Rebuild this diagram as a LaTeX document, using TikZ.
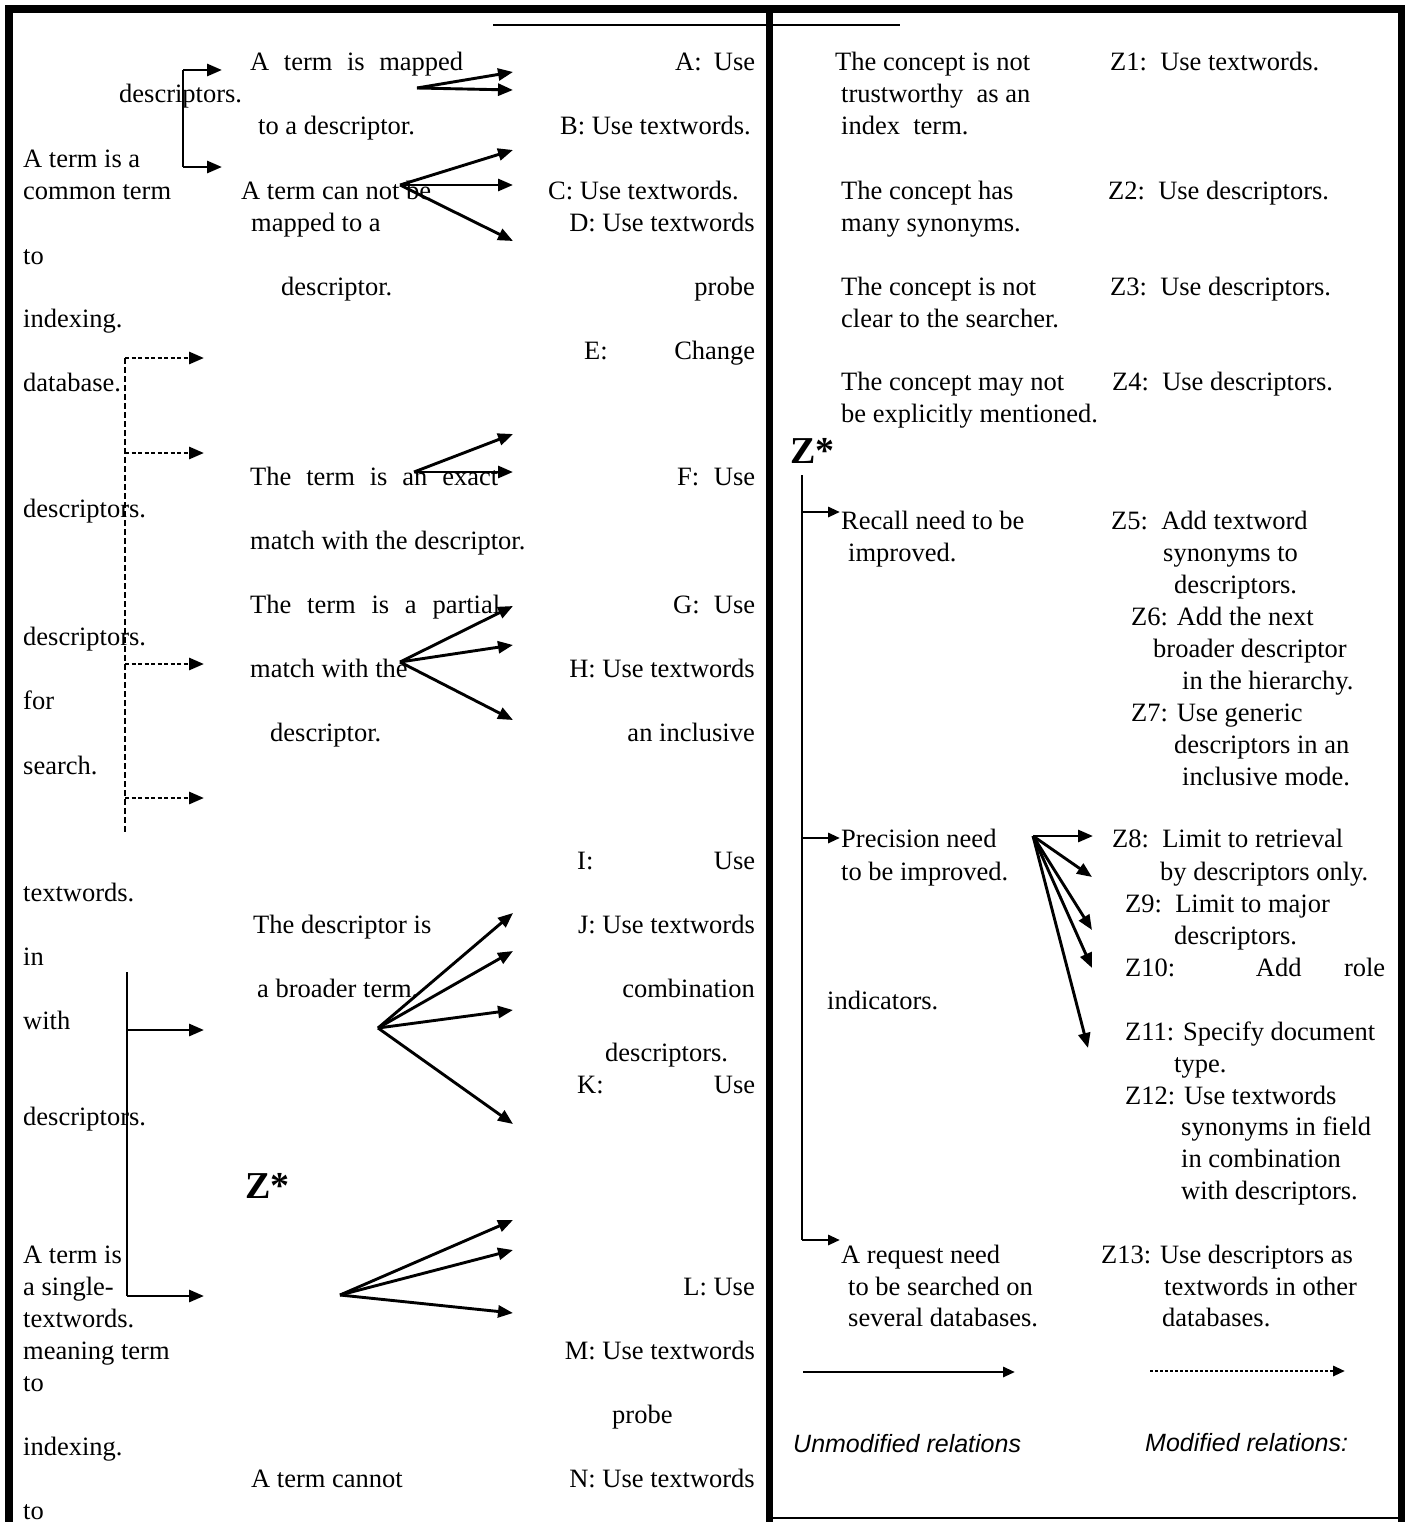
\documentclass[tikz,border=0pt]{standalone}
\usepackage{fontspec}
\setmainfont{Liberation Serif}
\newfontfamily\legendfont{Liberation Sans}
\usetikzlibrary{arrows.meta}
\tikzset{
    Lbl/.style={anchor=base west,inner sep=0pt,font=\fontsize{26.5bp}{32bp}\selectfont},
    Rbl/.style={anchor=base east,inner sep=0pt,font=\fontsize{26.5bp}{32bp}\selectfont},
    Star/.style={anchor=base west,inner sep=0pt,font=\fontsize{38bp}{40bp}\selectfont\bfseries},
    Leg/.style={anchor=base west,inner sep=0pt,font=\fontsize{25bp}{30bp}\selectfont\legendfont\itshape},
    Rel/.style={line width=2.9bp,-{Triangle[length=15bp,width=12bp]}},
    RelSmall/.style={line width=2.9bp,-{Triangle[length=12bp,width=10bp]}},
    RelMod/.style={Rel,dash pattern=on 4bp off 2.5bp},
    Frame/.style={line width=8bp}    }

\begin{document}
\begin{tikzpicture}[x=1bp,y=-1bp]
    \useasboundingbox (0,0) rectangle (1405,1522);

    % frame and divider
    \draw[Frame] (9,1522) -- (9,9) -- (1405,9);
    \draw[line width=7bp] (769,9) -- (769,1522);
    \draw[line width=7bp] (1401,9) -- (1401,1522);
    \draw[line width=2bp] (769,1518) -- (1401,1518);
    \draw[line width=2.8bp] (493,25) -- (900,25);

    % left column
    \foreach \y/\t in {167/A term is a,199/common term,264/to,327/indexing.,391/database.,
        517/descriptors.,645/descriptors.,709/for,774/search.,901/textwords.,965/in,
        1029/with,1125/descriptors.,1263/A term is,1295/a single-,1327/textwords.,
        1359/meaning term,1391/to,1455/indexing.,1519/to}
        \node[Lbl] (left\y) at (23,\y) {\t};
    \node[Lbl] (leftdesc) at (119,103) {descriptors.};

    % conditions, middle column
    \node[Lbl] (mapped) at (250,71) {\makebox[213bp][s]{A term is mapped}};
    \node[Lbl] (mappedb) at (258,135) {to a descriptor.};
    \node[Lbl] (notmapped) at (241,199) {A term can not be};
    \node[Lbl] (notmappedb) at (251,231) {mapped to a};
    \node[Lbl] (notmappedc) at (281,295) {descriptor.};
    \node[Lbl] (exact) at (250,485) {\makebox[248bp][s]{The term is an exact}};
    \node[Lbl] (exactb) at (250,549) {match with the descriptor.};
    \node[Lbl] (partial) at (250,613) {\makebox[250bp][s]{The term is a partial}};
    \node[Lbl] (partialb) at (250,677) {match with the};
    \node[Lbl] (partialc) at (270,741) {descriptor.};
    \node[Lbl] (broader) at (253,933) {The descriptor is};
    \node[Lbl] (broaderb) at (257,997) {a broader term.};
    \node[Lbl] (cannot) at (251,1487) {A term cannot};
    \node[Star] (zleft) at (245,1198) {Z*};

    % actions A--N
    \foreach \y/\t in {231/D: Use textwords,295/probe,677/H: Use textwords,741/an inclusive,
        933/J: Use textwords,997/combination,1295/L: Use,1359/M: Use textwords,1487/N: Use textwords}
        \node[Rbl] (act\y) at (755,\y) {\t};
    \node[Rbl] (act135) at (751,135) {B: Use textwords.};
    \node[Lbl] (act199) at (548,199) {C: Use textwords.};
    \node[Lbl] (act71) at (675,71) {\makebox[80bp][s]{A: Use}};
    \node[Lbl] (act359) at (584,359) {\makebox[171bp][s]{E: Change}};
    \node[Lbl] (act485) at (677,485) {\makebox[78bp][s]{F: Use}};
    \node[Lbl] (act613) at (673,613) {\makebox[82bp][s]{G: Use}};
    \node[Lbl] (act869) at (577,869) {\makebox[178bp][s]{I: Use}};
    \node[Lbl] (act1061) at (605,1061) {descriptors.};
    \node[Lbl] (act1093) at (577,1093) {\makebox[178bp][s]{K: Use}};
    \node[Lbl] (act1423) at (612,1423) {probe};

    % right column, concepts
    \foreach \x/\y/\t [count=\i] in {835/71/The concept is not,841/103/trustworthy\ \ as an,
        841/135/index\ \ term.,841/199/The concept has,841/231/many synonyms.,
        841/295/The concept is not,841/327/clear to the searcher.,841/390/The concept may not,
        841/422/be explicitly mentioned.,841/529/Recall need to be,848/561/improved.,
        841/847/Precision need,841/880/to be improved.,827/1009/indicators.,
        841/1263/A request need,848/1295/to be searched on,848/1326/several databases.}
        \node[Lbl] (cond\i) at (\x,\y) {\t};

    % right column, Z actions
    \foreach \x/\y/\t [count=\i] in {1110/71/Z1:\ \ Use textwords.,1108/199/Z2:\ \ Use descriptors.,
        1110/295/Z3:\ \ Use descriptors.,1112/390/Z4:\ \ Use descriptors.,
        1111/529/Z5:\ \ Add textword,1163/561/synonyms to,1174/593/descriptors.,
        1131/625/Z6: Add the next,1153/657/broader descriptor,1182/689/in the hierarchy.,
        1131/721/Z7: Use generic,1174/753/descriptors in an,1182/785/inclusive mode.,
        1112/847/Z8:\ \ Limit to retrieval,1160/880/by descriptors only.,
        1125/912/Z9:\ \ Limit to major,1174/944/descriptors.,
        1125/1040/Z11: Specify document,1174/1072/type.,1125/1104/Z12: Use textwords,
        1181/1135/synonyms in field,1181/1167/in combination,1181/1199/with descriptors.,
        1101/1263/Z13: Use descriptors as,1164/1295/textwords in other,1162/1326/databases.}
        \node[Lbl] (zact\i) at (\x,\y) {\t};
    \node[Lbl] (zten) at (1125,976) {\makebox[260bp][s]{Z10: Add role}};
    \node[Star] (zright) at (790,463) {Z*};

    % top bracket
    \coordinate (brU) at (183,70);
    \coordinate (brD) at (183,167);
    \coordinate (brUe) at (222,70);
    \coordinate (brDe) at (222,167);
    \draw[line width=2.9bp] (brU) -- (brD);
    \draw[Rel] (brU) -- (brUe);
    \draw[Rel] (brD) -- (brDe);

    % dashed bracket
    \coordinate (dshT) at (125,358);
    \coordinate (dshB) at (125,835);
    \draw[line width=2.9bp,dash pattern=on 6bp off 3bp] (dshT) -- (dshB);
    \foreach \y in {358,453,664,798}
    {
    \coordinate (dsh\y) at (125,\y);
    \coordinate (dshe\y) at (204,\y);
    \draw[RelMod] (dsh\y) -- (dshe\y);
    }

    % lower bracket
    \coordinate (lbT) at (127,972);
    \coordinate (lbB) at (127,1296);
    \draw[line width=2.9bp] (lbT) -- (lbB);
    \foreach \y in {1030,1296}
    {
    \coordinate (lb\y) at (127,\y);
    \coordinate (lbe\y) at (204,\y);
    \draw[Rel] (lb\y) -- (lbe\y);
    }

    % fans towards the actions
    \foreach \n/\fx/\fy/\tips in {A/417/88/{72,90},C/400/185/{150,185,241},F/414/472/{434,472},
        G/400/662/{606,645,720},J/378/1028/{913,951,1010,1124},L/340/1295/{1220,1250,1313}}
    {
    \coordinate (fan\n) at (\fx,\fy);
    \foreach \e in \tips
    {
    \coordinate (fan\n\e) at (513,\e);
    \draw[Rel] (fan\n) -- (fan\n\e);
    }
    }

    % right tree
    \coordinate (trT) at (802,475);
    \coordinate (trB) at (802,1240);
    \draw[line width=2.9bp] (trT) -- (trB);
    \foreach \y in {512,838,1240}
    {
    \coordinate (tr\y) at (802,\y);
    \coordinate (tre\y) at (840,\y);
    \draw[RelSmall] (tr\y) -- (tre\y);
    }

    % precision fan
    \coordinate (fanP) at (1033,836);
    \foreach \ex/\ey [count=\i] in {1093/836,1092/877,1092/930,1092/968,1088/1048}
    {
    \coordinate (fanP\i) at (\ex,\ey);
    \draw[Rel] (fanP) -- (fanP\i);
    }

    % legend
    \coordinate (legU) at (803,1372);
    \coordinate (legUe) at (1015,1372);
    \coordinate (legM) at (1150,1371);
    \coordinate (legMe) at (1345,1371);
    \draw[RelSmall] (legU) -- (legUe);
    \draw[RelSmall,dash pattern=on 3bp off 2bp] (legM) -- (legMe);
    \node[Leg] (unmod) at (793,1452) {Unmodified relations};
    \node[Leg] (mod) at (1145,1451) {Modified relations:};
\end{tikzpicture}
\end{document}
